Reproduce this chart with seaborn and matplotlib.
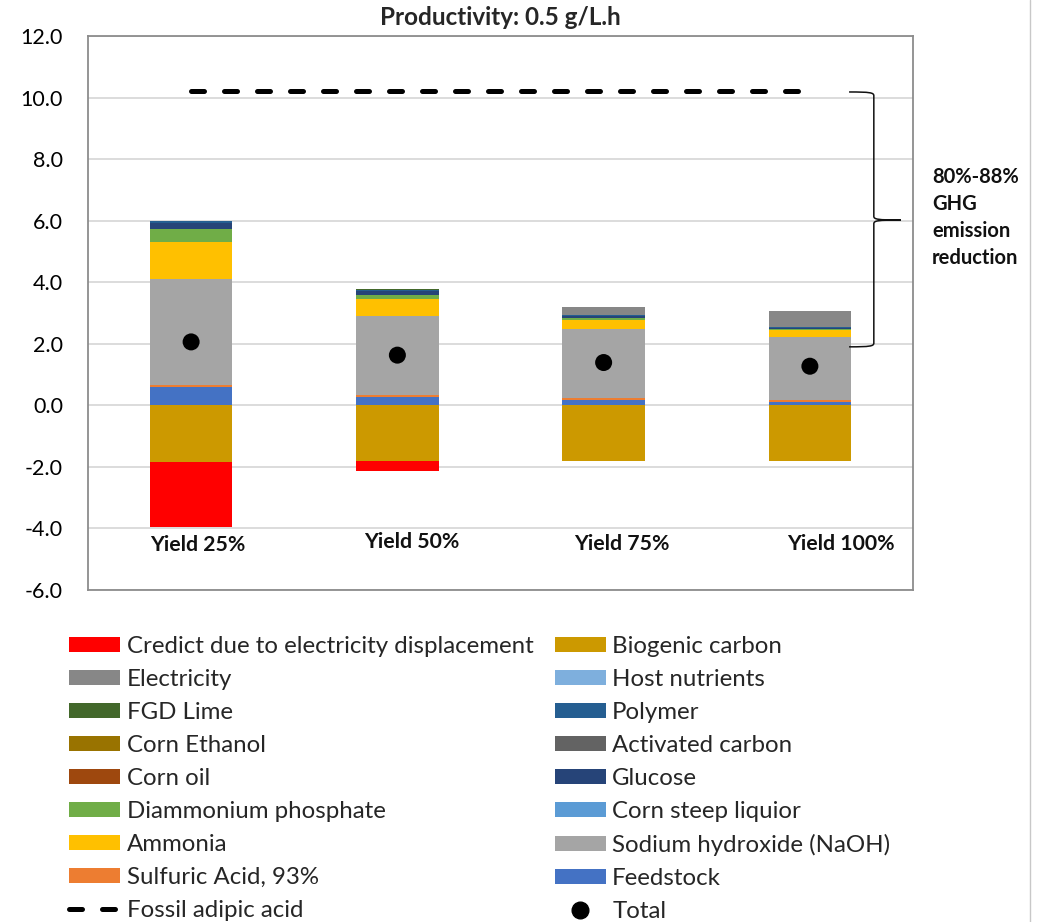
import numpy as np
import pandas as pd
import matplotlib
matplotlib.use("Agg")
import matplotlib.pyplot as plt
from matplotlib.patches import Patch, PathPatch
from matplotlib.lines import Line2D
from matplotlib.path import Path
import seaborn as sns

# ---- data (kg CO2e per kg adipic acid) ----
categories = ["Yield 25%", "Yield 50%", "Yield 75%", "Yield 100%"]

feedstock = [0.60, 0.27, 0.18, 0.12]
sulfuric_acid = [0.06, 0.07, 0.07, 0.05]
sodium_hydroxide = [3.44, 2.57, 2.22, 2.06]
ammonia = [1.21, 0.53, 0.30, 0.22]
corn_steep_liquor = [0.01, 0.01, 0.01, 0.01]
diammonium_phosphate = [0.41, 0.13, 0.07, 0.02]
glucose = [0.18, 0.13, 0.04, 0.02]
corn_oil = [0.0, 0.0, 0.0, 0.0]
activated_carbon = [0.0, 0.0, 0.0, 0.0]
corn_ethanol = [0.0, 0.0, 0.0, 0.0]
polymer = [0.07, 0.05, 0.04, 0.03]
fgd_lime = [0.01, 0.01, 0.01, 0.01]
host_nutrients = [0.01, 0.01, 0.0, 0.0]
electricity = [0.0, 0.0, 0.25, 0.53]

biogenic_carbon = [-1.83, -1.80, -1.80, -1.80]
electricity_credit = [-2.11, -0.35, 0.0, 0.0]

fossil_adipic_acid = [10.2, 10.2, 10.2, 10.2]

# stacking order (bottom -> top) with colours
positive = [
    ("Feedstock", feedstock, "#4472C4"),
    ("Sulfuric Acid, 93%", sulfuric_acid, "#ED7D31"),
    ("Sodium hydroxide (NaOH)", sodium_hydroxide, "#A5A5A5"),
    ("Ammonia", ammonia, "#FFC000"),
    ("Corn steep liquior", corn_steep_liquor, "#5B9BD5"),
    ("Diammonium phosphate", diammonium_phosphate, "#70AD47"),
    ("Glucose", glucose, "#264478"),
    ("Corn oil", corn_oil, "#9E480E"),
    ("Activated carbon", activated_carbon, "#636363"),
    ("Corn Ethanol", corn_ethanol, "#997300"),
    ("Polymer", polymer, "#255E91"),
    ("FGD Lime", fgd_lime, "#43682B"),
    ("Host nutrients", host_nutrients, "#7EAFDD"),
    ("Electricity", electricity, "#878787"),
]
negative = [
    ("Biogenic carbon", biogenic_carbon, "#CC9900"),
    ("Credict due to electricity displacement", electricity_credit, "#FF0000"),
]
colors = {name: c for name, _, c in positive + negative}

totals = np.sum([v for _, v, _ in positive + negative], axis=0)

sns.set_theme(style="white")
plt.rcParams["font.family"] = ["Lato", "DejaVu Sans"]

fig = plt.figure(figsize=(10.45, 9.22), dpi=100)
ax = fig.add_axes([0.0842, 0.3601, 0.7895, 0.6009])

# stacked bars
for group in (positive, negative):
    base = np.zeros(len(categories))
    for name, vals, col in group:
        vals = np.asarray(vals, dtype=float)
        df = pd.DataFrame({"cat": categories, "val": vals})
        sns.barplot(data=df, x="cat", y="val", bottom=base, color=col,
                    saturation=1, width=0.4, errorbar=None, ax=ax,
                    linewidth=0, zorder=3)
        base = base + vals

# totals
x_pos = np.arange(len(categories))
sns.scatterplot(x=x_pos, y=totals, color="black", s=150, edgecolor="none",
                ax=ax, zorder=5, legend=False)

# fossil reference line
sns.lineplot(x=x_pos, y=fossil_adipic_acid, color="black", ax=ax,
             linewidth=3.6, zorder=4, legend=False)
fossil_line = ax.lines[-1]
fossil_line.set_dashes((2.6, 4.0))
fossil_line.set_dash_capstyle("round")

ax.set_xlim(-0.5, 3.5)
ax.set_ylim(-6, 12)
ax.set_yticks(np.arange(-6, 12.1, 2))
ax.set_yticklabels([f"{v:.1f}" for v in np.arange(-6, 12.1, 2)], fontsize=15.5)
ax.set_xticks([])
ax.set_xlabel("")
ax.set_ylabel("")
ax.tick_params(axis="y", length=0, pad=18, labelcolor="#000000")
ax.grid(axis="y", color="#D9D9D9", linewidth=1.3, zorder=0)
ax.set_axisbelow(True)
for sp in ax.spines.values():
    sp.set_visible(True)
    sp.set_color("#8C8C8C")
    sp.set_linewidth(1.3)

# category labels drawn inside the plot area
label_x = [0.03, 1.07, 2.09, 3.15]
label_y = [-4.55, -4.45, -4.5, -4.5]
for lx, ly, lab in zip(label_x, label_y, categories):
    ax.text(lx, ly, lab, ha="center", va="center", fontsize=15.3,
            fontweight="bold", color="#111111", zorder=6)

ax.set_title("Productivity: 0.5 g/L.h", fontsize=17.5, fontweight="bold",
             pad=8)

# curly brace spanning fossil level to bio-based level
x0, x1, x2 = 3.19, 3.31, 3.44
yt, ym, yb = 10.18, 6.02, 1.90
c = 0.12
verts = [
    (x0, yt), (x1 - 0.02, yt), (x1, yt - 0.02), (x1, yt - c),
    (x1, ym + c),
    (x1, ym + 0.02), (x1 + 0.02, ym), (x2, ym),
    (x1 + 0.02, ym), (x1, ym - 0.02), (x1, ym - c),
    (x1, yb + c),
    (x1, yb + 0.02), (x1 - 0.02, yb), (x0, yb),
]
codes = [Path.MOVETO, Path.CURVE4, Path.CURVE4, Path.CURVE4,
         Path.LINETO,
         Path.CURVE4, Path.CURVE4, Path.CURVE4,
         Path.CURVE4, Path.CURVE4, Path.CURVE4,
         Path.LINETO,
         Path.CURVE4, Path.CURVE4, Path.CURVE4]
ax.add_patch(PathPatch(Path(verts, codes), facecolor="none",
                       edgecolor="#111111", linewidth=1.1, zorder=6,
                       clip_on=False))

for i, line in enumerate(["80%-88%", "GHG", "emission", "reduction"]):
    fig.text(932 / 1045, 1 - (177 + 27 * i) / 922, line, fontsize=14.5,
             fontweight="bold", ha="left", va="center", color="#111111")

# thin frame line at the right edge of the figure
fig.add_artist(Line2D([1030 / 1045, 1030 / 1045], [0, 1], color="#C8C8C8",
                      linewidth=1.0, transform=fig.transFigure))

# legend (left column, then right column)
left_names = ["Credict due to electricity displacement", "Electricity",
              "FGD Lime", "Corn Ethanol", "Corn oil", "Diammonium phosphate",
              "Ammonia", "Sulfuric Acid, 93%"]
right_names = ["Biogenic carbon", "Host nutrients", "Polymer",
               "Activated carbon", "Glucose", "Corn steep liquior",
               "Sodium hydroxide (NaOH)", "Feedstock"]
handles, labels = [], []
for n in left_names:
    handles.append(Patch(facecolor=colors[n], edgecolor="none"))
    labels.append(n)
handles.append(Line2D([], [], color="black", linewidth=3.6,
                      dashes=(2.6, 4.0), dash_capstyle="round"))
labels.append("Fossil adipic acid")
for n in right_names:
    handles.append(Patch(facecolor=colors[n], edgecolor="none"))
    labels.append(n)
handles.append(Line2D([], [], color="black", marker="o", linestyle="none",
                      markersize=12))
labels.append("Total")

fig.legend(handles, labels, ncol=2, loc="upper left",
           bbox_to_anchor=(69 / 1045, 1 - 636 / 922), frameon=False,
           fontsize=17.3, handlelength=2.12, handleheight=0.58,
           handletextpad=0.28, columnspacing=0.88, labelspacing=0.5,
           borderpad=0, borderaxespad=0)

fig.savefig("out.png", dpi=100, facecolor="white")
